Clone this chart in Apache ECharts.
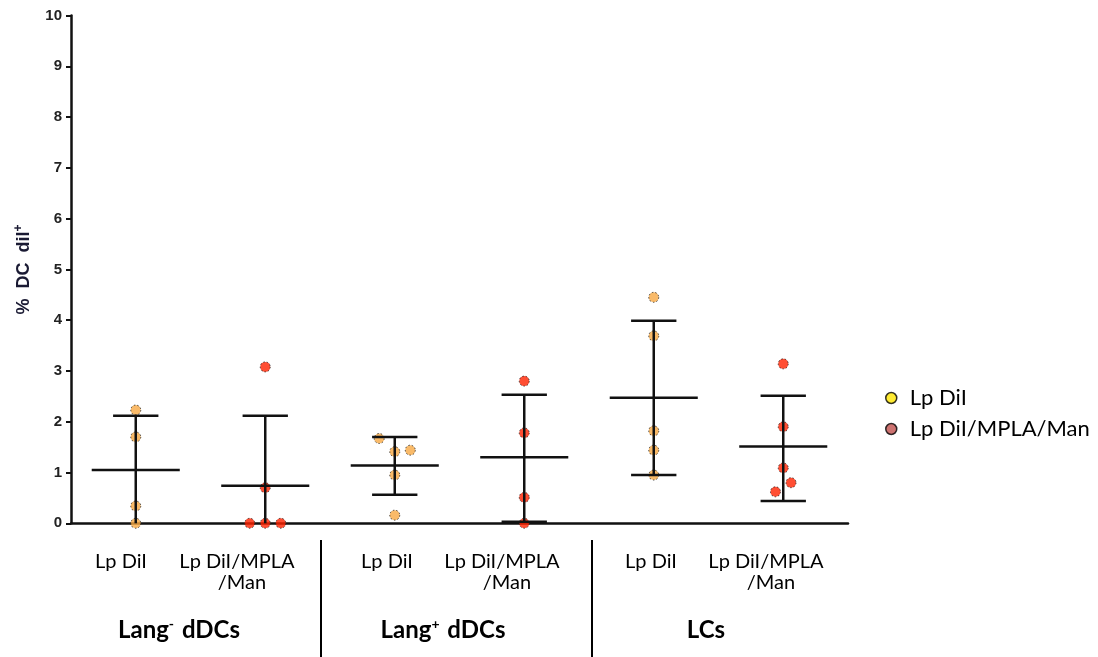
<!DOCTYPE html>
<html>
<head>
<meta charset="utf-8">
<script src="https://cdn.jsdelivr.net/npm/echarts@6/dist/echarts.min.js"></script>
<style>
  html, body { margin: 0; padding: 0; background: #fff; }
  #chart { width: 1098px; height: 657px; }
</style>
</head>
<body>
<div id="chart"></div>
<script>
// ---- data ----
const categories = ['Lp DiI', 'Lp DiI/MPLA\n/Man', 'Lp DiI', 'Lp DiI/MPLA\n/Man', 'Lp DiI', 'Lp DiI/MPLA\n/Man'];
const groupNames = ['Lang{m|-} dDCs', 'Lang{p|+} dDCs', 'LCs'];
const yTicks = [0, 1, 2, 3, 4, 5, 6, 7, 8, 9, 10];
const seriesNames = ['Lp DiI', 'Lp DiI/MPLA/Man'];

// individual points per group (values), with horizontal scatter (category units)
const lpDiIValues = [[2.23, 1.70, 0.34, 0.00], [1.67, 1.41, 1.44, 0.95, 0.16], [4.45, 3.69, 1.82, 1.44, 0.95]];
const lpDiIJitter = [[0, 0, 0, 0], [-0.12, 0, 0.12, 0, 0], [0, 0, 0, 0, 0]];
const mplaValues = [[3.08, 0.70, 0.00, 0.00, 0.00], [2.80, 1.78, 0.51, 0.00], [3.14, 1.90, 1.09, 0.80, 0.62]];
const mplaJitter = [[0, 0, -0.12, 0, 0.12], [0, 0, 0, 0], [0, 0, 0, 0.06, -0.06]];

// mean and SD limits per category
const means = [1.05, 0.74, 1.14, 1.30, 2.47, 1.51];
const sdUpper = [2.12, 2.12, 1.70, 2.53, 3.99, 2.51];
const sdLower = [-0.02, -0.64, 0.56, 0.03, 0.95, 0.44];

// ---- build ----
function pts(values, jitter, offset) {
  const out = [];
  values.forEach((g, gi) => g.forEach((v, k) => out.push([gi * 2 + offset + jitter[gi][k], v])));
  return out;
}
const lpPts = pts(lpDiIValues, lpDiIJitter, 0);
const mpPts = pts(mplaValues, mplaJitter, 1);
const barData = means.map((m, i) => [i, m, sdUpper[i], sdLower[i]]);

const chart = echarts.init(document.getElementById('chart'), null, { renderer: 'canvas' });

const labelX = [121, 237, 387, 502, 651, 766];
const groupX = [179, 443, 706];
const graphics = [];
categories.forEach((c, i) => {
  const lines = c.split('\n');
  lines.forEach((t, li) => {
    graphics.push({
      type: 'text',
      x: labelX[i] + (li > 0 ? 5 : 0), y: 562 + li * 21,
      style: { text: t, fontFamily: 'Lato', fontSize: 20, fill: '#000', align: 'center', verticalAlign: 'middle' }
    });
  });
});
groupNames.forEach((g, i) => {
  graphics.push({
    type: 'text', x: groupX[i], y: 630,
    style: {
      text: g, fontFamily: 'Lato', fontSize: 24, fontWeight: 'bold', fill: '#000', align: 'center', verticalAlign: 'middle',
      rich: {
        m: { fontFamily: 'Lato', fontSize: 14, fontWeight: 'bold', verticalAlign: 'top', padding: [0, 2, 12, 0] },
        p: { fontFamily: 'Lato', fontSize: 14, fontWeight: 'bold', verticalAlign: 'top', padding: [0, 2, 12, 0] }
      }
    }
  });
});
[321, 592].forEach(x => graphics.push({
  type: 'line', shape: { x1: x, y1: 540, x2: x, y2: 657 }, style: { stroke: '#000', lineWidth: 2 }
}));

const option = {
  animation: false,
  backgroundColor: '#fff',
  grid: { left: 71, right: 250, top: 15.5, bottom: 133.7 },
  legend: {
    orient: 'vertical', left: 880, top: 382, itemGap: 9,
    itemWidth: 11, itemHeight: 11, icon: 'circle',
    textStyle: { fontFamily: 'Lato', fontSize: 22, color: '#000', padding: [0, 0, 0, 8] },
    data: [
      { name: seriesNames[0], itemStyle: { color: '#FFE600', borderColor: '#000', borderWidth: 1.5 } },
      { name: seriesNames[1], itemStyle: { color: '#C0504D', borderColor: '#000', borderWidth: 1.5 } }
    ]
  },
  xAxis: [
    {
      type: 'category', data: categories, boundaryGap: true,
      axisLine: { lineStyle: { color: '#111', width: 2.5 } },
      axisTick: { alignWithLabel: true, length: 5, lineStyle: { color: '#222', width: 1.5 } },
      axisLabel: { show: false },
      splitLine: { show: false }
    },
    { type: 'value', min: -0.5, max: 5.5, show: false, splitLine: { show: false } }
  ],
  yAxis: {
    type: 'value', min: 0, max: 10, interval: 1,
    name: '%  DC  dil{s|+}', nameLocation: 'middle', nameRotate: 90, nameGap: 36,
    nameTextStyle: {
      fontFamily: 'Liberation Sans', fontWeight: 'bold', fontSize: 18, color: '#1a1a33',
      rich: { s: { fontFamily: 'Liberation Sans', fontWeight: 'bold', fontSize: 12, verticalAlign: 'top', padding: [0, 0, 10, 0] } }
    },
    axisLine: { show: true, onZero: false, lineStyle: { color: '#111', width: 2.5 } },
    axisTick: { show: true, length: 5, lineStyle: { color: '#111', width: 2 } },
    axisLabel: { fontFamily: 'Liberation Sans', fontWeight: 'bold', fontSize: 15, color: '#222', margin: 9,
      formatter: v => (yTicks.indexOf(v) >= 0 ? String(v) : '') },
    splitLine: { show: false }
  },
  series: [
    {
      name: seriesNames[0], type: 'scatter', xAxisIndex: 1, data: lpPts, symbol: 'circle', symbolSize: 10,
      itemStyle: { color: '#F7A944', borderColor: '#222', borderWidth: 1, borderType: [1.5, 2] }, z: 3
    },
    {
      name: seriesNames[1], type: 'scatter', xAxisIndex: 1, data: mpPts, symbol: 'circle', symbolSize: 10,
      itemStyle: { color: '#FF2200', borderColor: '#222', borderWidth: 1, borderType: [1.5, 2] }, z: 3
    },
    {
      type: 'custom', xAxisIndex: 1, data: barData, z: 4, clip: false,
      renderItem: function (params, api) {
        const i = api.value(0), m = api.value(1), hi = api.value(2), lo = api.value(3);
        const band = api.size([1, 0])[0];
        const mw = band * 0.34, cw = band * 0.175;
        const c = api.coord([i, m]);
        const t = api.coord([i, hi]);
        const b = api.coord([i, Math.max(lo, 0)]);
        const st = { stroke: '#111', lineWidth: 2.5 };
        const ch = [
          { type: 'line', shape: { x1: t[0], y1: t[1], x2: b[0], y2: b[1] }, style: st },
          { type: 'line', shape: { x1: c[0] - mw, y1: c[1], x2: c[0] + mw, y2: c[1] }, style: st },
          { type: 'line', shape: { x1: t[0] - cw, y1: t[1], x2: t[0] + cw, y2: t[1] }, style: st }
        ];
        if (lo > 0) ch.push({ type: 'line', shape: { x1: b[0] - cw, y1: b[1], x2: b[0] + cw, y2: b[1] }, style: st });
        return { type: 'group', children: ch };
      }
    }
  ],
  graphic: graphics
};
chart.setOption(option);
</script>
</body>
</html>
